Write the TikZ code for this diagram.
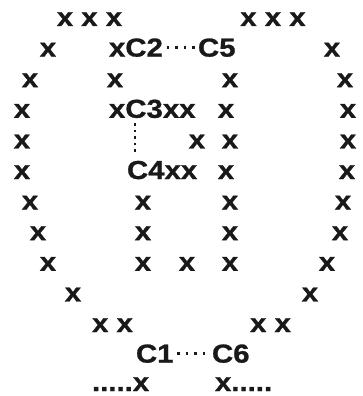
\documentclass[tikz,border=0pt]{standalone}
\usepackage{fontspec}
\newfontfamily\dfont[FakeStretch=1.13,FakeBold=1]{Liberation Sans}
\begin{document}
\begin{tikzpicture}[x=1pt,y=-1pt,
  t/.style={inner sep=0pt, outer sep=0pt, text=black!90,
    font=\dfont\bfseries\fontsize{26}{30}\selectfont},
  xb/.style={t, anchor=base},
  sw/.style={t, anchor=base west},
  dotsh/.style={line width=2.6pt, dash pattern=on 2.6pt off 5.9pt, black!90},
  dotsv/.style={line width=2.6pt, dash pattern=on 2.6pt off 4pt, black!90}]
\useasboundingbox (0,0) rectangle (362,396);
% row 1
\node[xb] (r1a) at (89.5,26) {x x x};
\node[xb] (r1b) at (273,26) {x x x};
% row 2
\node[xb] (r2a) at (48,56.6) {x};
\node[sw] (c2) at (109,56.6) {xC2};
\node[sw] (c5) at (198,56.6) {C5};
\node[xb] (r2b) at (332,56.6) {x};
\draw[dotsh, shorten <=4pt, shorten >=1pt] (c2.east) -- (c5.west);
% row 3
\foreach \px [count=\i] in {30,115,230,345} \node[xb] (r3-\i) at (\px,87.2) {x};
% row 4
\node[xb] (r4a) at (22,117.8) {x};
\node[sw] (x4) at (109,117.8) {x};
\node[sw] (c3) at (x4.base east) {C3};
\node[sw] (xx4) at (c3.base east) {xx};
\node[xb] (r4b) at (226,117.8) {x};
\node[xb] (r4c) at (348,117.8) {x};
% row 5
\foreach \px [count=\i] in {22,197,230,348} \node[xb] (r5-\i) at (\px,148.4) {x};
% row 6
\node[xb] (r6a) at (22,179) {x};
\node[sw] (c4) at (127,179) {C4};
\node[sw] (xx6) at (c4.base east) {xx};
\node[xb] (r6b) at (226,179) {x};
\node[xb] (r6c) at (347,179) {x};
\coordinate (v1) at ([xshift=9.5pt]c3.south west);
\draw[dotsv, shorten <=5pt, shorten >=7pt] (v1) -- (v1 |- c4.north);
% rows 7-10
\foreach \px [count=\i] in {30,143,230,343} \node[xb] (r7-\i) at (\px,209.6) {x};
\foreach \px [count=\i] in {38,143,230,340} \node[xb] (r8-\i) at (\px,240.2) {x};
\foreach \px [count=\i] in {48,143,187,230,327} \node[xb] (r9-\i) at (\px,270.8) {x};
\node[xb] (r10a) at (73,301.4) {x};
\node[xb] (r10b) at (310,301.4) {x};
% row 11
\node[xb] (r11a) at (112.5,332) {x x};
\node[xb] (r11b) at (270.5,332) {x x};
% row 12
\node[sw] (c1) at (136,362.6) {C1};
\node[sw] (c6) at (212,362.6) {C6};
\draw[dotsh, shorten <=3.6pt, shorten >=2pt] (c1.east) -- (c6.west);
% row 13
\node[sw] (r13a) at (92,391) {.....x};
\node[sw] (r13b) at (215,391) {x.....};
\end{tikzpicture}
\end{document}
